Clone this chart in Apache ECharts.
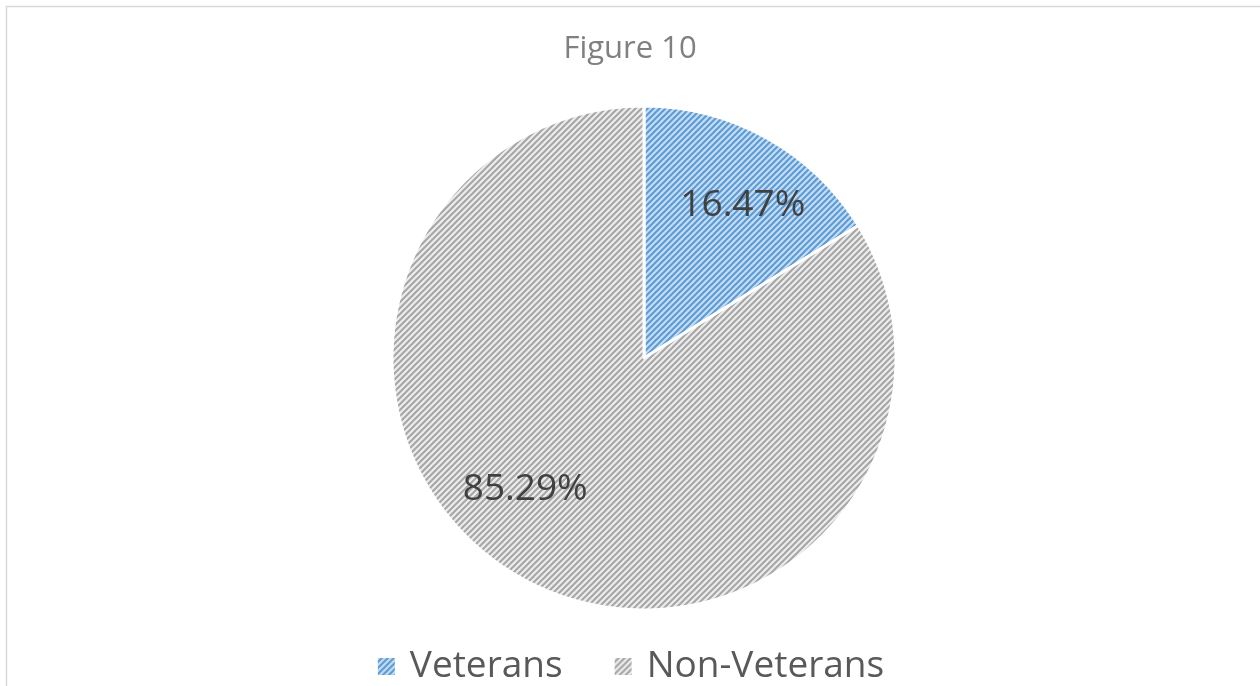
<!DOCTYPE html>
<html>
<head>
<meta charset="utf-8">
<script src="https://cdn.jsdelivr.net/npm/echarts@6/dist/echarts.min.js"></script>
<style>
    html, body { margin: 0; padding: 0; background: #fff; }
    #pieChart { width: 1260px; height: 686px; }
</style>
</head>
<body>
<div id="pieChart"></div>
<script>
    const titleText = 'Figure 10';
    const categories = ['Veterans', 'Non-Veterans'];
    const values = [16.47, 85.29];

    // hatch fill: diagonal "/" stripes on a light background
    const hatch = (bg, fg) => {
        const size = 6;
        const c = document.createElement('canvas');
        c.width = size;
        c.height = size;
        const ctx = c.getContext('2d');
        ctx.fillStyle = bg;
        ctx.fillRect(0, 0, size, size);
        ctx.strokeStyle = fg;
        ctx.lineWidth = 2;
        ctx.beginPath();
        ctx.moveTo(-1, size + 1);
        ctx.lineTo(size + 1, -1);
        ctx.moveTo(-1, 1);
        ctx.lineTo(1, -1);
        ctx.moveTo(size - 1, size + 1);
        ctx.lineTo(size + 1, size - 1);
        ctx.stroke();
        return { image: c, repeat: 'repeat' };
    };

    const fills = [
        hatch('#c5dcf1', '#5b9bd5'),
        hatch('#ececec', '#a6a6a6')
    ];
    const labelOffsets = [[36, -40], [-56, 19]];

    const chart = echarts.init(document.getElementById('pieChart'));
    chart.setOption({
        animation: false,
        title: {
            text: titleText,
            left: 'center',
            top: 29,
            textStyle: {
                fontFamily: 'Open Sans',
                fontSize: 31,
                fontWeight: 'normal',
                color: '#808080'
            }
        },
        legend: {
            bottom: -4,
            left: 'center',
            itemWidth: 19,
            itemHeight: 19,
            itemGap: 50,
            icon: 'rect',
            textStyle: {
                fontFamily: 'Open Sans',
                fontSize: 37,
                color: '#595959',
                padding: [0, 0, 0, 9]
            },
            data: categories
        },
        graphic: [{
            type: 'polyline',
            shape: { points: [[6.5, 700], [6.5, 6.5], [1270, 6.5]] },
            style: { stroke: '#d9d9d9', lineWidth: 1.5, fill: null },
            silent: true
        }],
        series: [{
            type: 'pie',
            center: [644, 358],
            radius: 252,
            startAngle: 90,
            clockwise: true,
            itemStyle: {
                borderColor: '#ffffff',
                borderWidth: 3
            },
            label: {
                show: true,
                position: 'inside',
                fontFamily: 'Open Sans',
                fontSize: 37,
                color: '#404040',
                formatter: p => p.value.toFixed(2) + '%'
            },
            labelLine: { show: false },
            data: categories.map((name, i) => ({
                name,
                value: values[i],
                itemStyle: { color: fills[i] },
                label: { offset: labelOffsets[i] }
            }))
        }]
    });
</script>
</body>
</html>
